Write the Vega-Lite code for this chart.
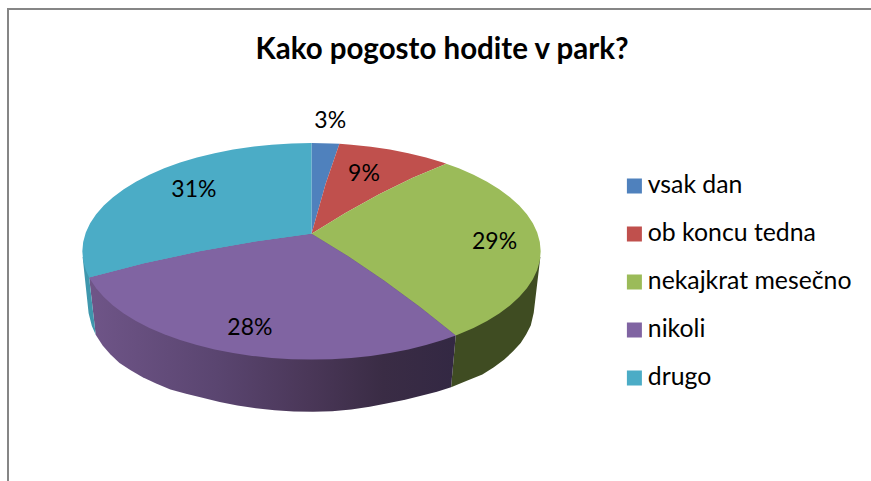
{"$schema":"https://vega.github.io/schema/vega-lite/v6.json","width":871,"height":481,"padding":0,"autosize":"none","background":"white","config":{"view":{"stroke":null},"font":"Lato"},
"title":{"text":"Kako pogosto hodite v park?","font":"Lato","fontSize":29.5,"fontWeight":"bold","color":"#000000","anchor":"middle","frame":"group","dx":6.5,"dy":26,"offset":-62,"baseline":"alphabetic"},
"datasets":{
"walls":[
{"type":"Feature","slice":"nekajkrat mesečno","geometry":{"type":"Polygon","coordinates":[[[0,90],[87,80.1],[61.27,79.04],[56.47,78.62],[53.05,78.37],[49.62,78.11],[46.17,77.9],[42.72,77.69],[39.24,77.51],[35.76,77.33],[31.9,77.26],[28.04,77.13],[39,80.1],[0,90]]]}},
{"type":"Feature","slice":"nikoli","geometry":{"type":"Polygon","coordinates":[[[0,90],[39,80.1],[28.04,77.13],[24.85,77.06],[21.67,77.01],[18.1,76.93],[14.56,76.86],[11,76.76],[7.43,76.67],[3.85,76.61],[0.28,76.6],[-3.3,76.61],[-6.87,76.63],[-10.44,76.68],[-14.01,76.73],[-17.56,76.8],[-21.12,76.88],[-24.6,76.93],[-28,76.97],[-31.45,77.09],[-34.9,77.21],[-38.45,77.37],[-41.8,77.52],[-45.4,77.76],[-48.9,78],[-53.1,78.32],[-76,80.1],[0,90]]]}},
{"type":"Feature","slice":"drugo","geometry":{"type":"Polygon","coordinates":[[[0,90],[-76,80.1],[-53.1,78.32],[-56.4,78.59],[-61.2,79],[-87,80.1],[0,90]]]}}
],
"slices":[
{"type":"Feature","slice":"vsak dan","share":0.03,"geometry":{"type":"Polygon","coordinates":[[[0,90],[180,80.1],[175,80.1],[173,80.1],[0,90]]]}},
{"type":"Feature","slice":"ob koncu tedna","share":0.09,"geometry":{"type":"Polygon","coordinates":[[[0,90],[173,80.1],[170,80.1],[165,80.1],[160,80.1],[155,80.1],[150,80.1],[145,80.1],[144,80.1],[0,90]]]}},
{"type":"Feature","slice":"nekajkrat mesečno","share":0.29,"geometry":{"type":"Polygon","coordinates":[[[0,90],[144,80.1],[140,80.1],[135,80.1],[130,80.1],[125,80.1],[120,80.1],[115,80.1],[110,80.1],[105,80.1],[100,80.1],[95,80.1],[90,80.1],[85,80.1],[80,80.1],[75,80.1],[70,80.1],[65,80.1],[60,80.1],[55,80.1],[50,80.1],[45,80.1],[40,80.1],[39,80.1],[0,90]]]}},
{"type":"Feature","slice":"nikoli","share":0.28,"geometry":{"type":"Polygon","coordinates":[[[0,90],[39,80.1],[35,80.1],[30,80.1],[25,80.1],[20,80.1],[15,80.1],[10,80.1],[5,80.1],[0,80.1],[-5,80.1],[-10,80.1],[-15,80.1],[-20,80.1],[-25,80.1],[-30,80.1],[-35,80.1],[-40,80.1],[-45,80.1],[-50,80.1],[-55,80.1],[-60,80.1],[-65,80.1],[-70,80.1],[-75,80.1],[-76,80.1],[0,90]]]}},
{"type":"Feature","slice":"drugo","share":0.31,"geometry":{"type":"Polygon","coordinates":[[[0,90],[-76,80.1],[-80,80.1],[-85,80.1],[-90,80.1],[-95,80.1],[-100,80.1],[-105,80.1],[-110,80.1],[-115,80.1],[-120,80.1],[-125,80.1],[-130,80.1],[-135,80.1],[-140,80.1],[-145,80.1],[-150,80.1],[-155,80.1],[-160,80.1],[-165,80.1],[-170,80.1],[-175,80.1],[-180,80.1],[0,90]]]}}
],
"labels":[
{"slice":"vsak dan","share":0.03,"lon":176.5,"lat":76.7},
{"slice":"ob koncu tedna","share":0.09,"lon":159.8,"lat":83.45},
{"slice":"nekajkrat mesečno","share":0.29,"lon":92.2,"lat":82.1},
{"slice":"nikoli","share":0.28,"lon":-19.4,"lat":82},
{"slice":"drugo","share":0.31,"lon":-133.6,"lat":83}
]},
"projection":{"type":"orthographic","scale":1333,"translate":[311.5,1408.6],"rotate":[0,-28.2,0]},
"layer":[
{"data":{"name":"walls"},"mark":{"type":"geoshape","strokeWidth":0},"encoding":{"color":{"condition":[{"test":"datum.slice==='nikoli'","value":{"gradient":"linear","stops":[{"offset":0,"color":"#6f5588"},{"offset":0.35,"color":"#5a4570"},{"offset":0.6,"color":"#4a3758"},{"offset":0.8,"color":"#3a2c45"},{"offset":1,"color":"#332843"}]}},{"test":"datum.slice==='nekajkrat mesečno'","value":"#3f4c22"}],"value":"#3f97ad"}}},
{"data":{"name":"slices"},"mark":{"type":"geoshape","strokeWidth":0},"encoding":{"color":{"field":"slice","type":"nominal","scale":{"domain":["vsak dan","ob koncu tedna","nekajkrat mesečno","nikoli","drugo"],"range":["#4f81bd","#c0504d","#9bbb59","#8064a2","#4bacc6"]},"legend":{"title":null,"orient":"none","legendX":622,"legendY":162,"symbolType":"square","symbolSize":225,"symbolStrokeWidth":0,"labelFont":"Lato","labelFontSize":24.8,"labelColor":"#000000","labelOffset":1,"labelLimit":400,"clipHeight":48,"rowPadding":0}}}},
{"data":{"name":"labels"},"mark":{"type":"text","font":"Lato","fontSize":23,"color":"#000000","align":"center","baseline":"middle"},"encoding":{"longitude":{"field":"lon","type":"quantitative"},"latitude":{"field":"lat","type":"quantitative"},"text":{"field":"share","type":"quantitative","format":".0%"}}},
{"data":{"values":[{"edge":"top"}]},"mark":{"type":"rule","color":"#868686","strokeWidth":2},"encoding":{"x":{"value":7},"x2":{"value":871},"y":{"value":9}}},
{"data":{"values":[{"edge":"left"}]},"mark":{"type":"rule","color":"#868686","strokeWidth":2},"encoding":{"x":{"value":8},"y":{"value":8},"y2":{"value":481}}}
]}
